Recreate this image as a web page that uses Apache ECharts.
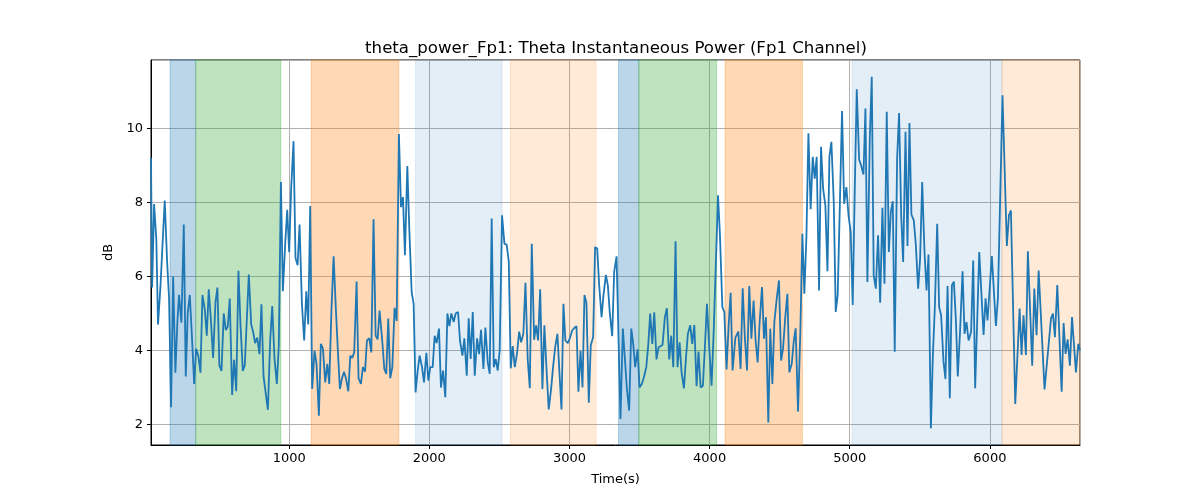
<!DOCTYPE html>
<html>
<head>
<meta charset="utf-8">
<title>theta_power_Fp1</title>
<script src="https://cdn.jsdelivr.net/npm/echarts@6/dist/echarts.min.js"></script>
<style>
  html, body { margin: 0; padding: 0; background: #fff; }
  #chart { width: 1200px; height: 500px; }
</style>
</head>
<body>
<div id="chart"></div>
<script>
// chart text
var chartTitle = 'theta_power_Fp1: Theta Instantaneous Power (Fp1 Channel)';
var xName = 'Time(s)';
var yName = 'dB';

// time (s) of each sample
var timeSec = [
  14, 22, 36, 52, 64, 81, 95, 112, 129, 143, 157, 172, 188, 202, 214, 231, 248, 262, 276, 291,
  307, 322, 336, 352, 367, 381, 398, 412, 426, 441, 457, 474, 488, 502, 517, 533, 548, 562, 576, 593,
  607, 622, 638, 652, 669, 683, 712, 729, 743, 757, 772, 788, 802, 817, 848,
  864, 879, 895, 912, 926, 941, 955, 972, 986, 1000, 1014, 1031, 1045, 1060, 1074, 1091, 1107, 1122, 1136, 1150,
  1164, 1181, 1195, 1212, 1226, 1241, 1257, 1272, 1286, 1302, 1317, 1333, 1348, 1362, 1376, 1391, 1405, 1422, 1436, 1450,
  1464, 1481, 1495, 1512, 1526, 1541, 1555, 1572, 1586, 1602, 1617, 1631, 1645, 1662, 1679,
  1693, 1707, 1721, 1736, 1752, 1767, 1783, 1798, 1812, 1826, 1843, 1857, 1874, 1888, 1902, 1917, 1931, 1948, 1962, 1979,
  1993, 2007, 2024, 2038, 2052, 2069, 2083, 2098, 2114, 2129, 2143, 2157, 2174, 2188, 2205, 2219, 2236, 2250, 2267, 2281,
  2295, 2310, 2324, 2341, 2355, 2369, 2386, 2400, 2417, 2431, 2445, 2460, 2474, 2488, 2502, 2519,
  2536, 2552, 2567, 2581, 2595, 2610, 2626, 2641, 2655, 2671, 2686, 2702, 2717, 2731, 2748, 2762, 2776, 2791, 2807, 2821,
  2838, 2852, 2869, 2883, 2898, 2914, 2929, 2943, 2957, 2971, 2988, 3002, 3019, 3033, 3050, 3064, 3079, 3093, 3107, 3121,
  3138, 3152, 3169, 3183, 3198, 3212, 3229, 3243, 3260, 3274, 3288, 3305, 3319, 3336,
  3364, 3381, 3395, 3410, 3426, 3441, 3455, 3469, 3486, 3500, 3517, 3531, 3548, 3562, 3576, 3591, 3605, 3621, 3636, 3650,
  3664, 3681, 3695, 3712, 3726, 3741, 3757, 3771, 3786, 3800, 3817, 3831, 3845, 3862, 3876, 3891, 3907, 3921, 3936, 3952,
  3967, 3981, 3998, 4014, 4029, 4060, 4074, 4091, 4105, 4121, 4136, 4150, 4164, 4184,
  4205, 4221, 4236, 4252, 4267, 4283, 4298, 4314, 4329, 4343, 4357, 4374, 4388, 4402, 4419, 4433, 4448, 4462, 4479, 4495,
  4510, 4524, 4541, 4555, 4569, 4586, 4600, 4614, 4631, 4648, 4662, 4676, 4691, 4705, 4721, 4736, 4750, 4764, 4781, 4795,
  4810, 4826, 4841, 4855, 4869, 4886, 4900, 4914, 4931, 4945, 4960, 4976, 4991, 5007, 5021,
  5036, 5050, 5067, 5081, 5098, 5112, 5126, 5143, 5157, 5171, 5186, 5202, 5217, 5233, 5248, 5264, 5279, 5293, 5307, 5321,
  5338, 5352, 5367, 5381, 5398, 5412, 5426, 5440, 5457, 5471, 5488, 5502, 5517, 5533, 5548, 5562, 5579, 5593, 5607, 5624,
  5638, 5652, 5669, 5683, 5698, 5714, 5729, 5743, 5757, 5771, 5788, 5805, 5819, 5833, 5848,
  5866, 5881, 5895, 5924, 5955, 5969, 5983, 6014, 6043, 6057, 6090, 6121, 6136, 6150, 6181, 6212, 6226, 6240, 6257, 6271,
  6302, 6317, 6333, 6348, 6390, 6436, 6450, 6464, 6481, 6512, 6526, 6540, 6555, 6571, 6586, 6614, 6631, 6643
];

// theta power (dB) at each sample
var powerDb = [
  9.2, 5.7, 7.95, 7.0, 4.7, 5.7, 5.75, 8.05, 6.4, 5.4, 2.47, 6.0, 3.4, 4.75, 5.5, 4.75, 7.4, 3.3, 5.0, 5.5,
  4.3, 3.1, 4.05, 3.85, 3.4, 5.5, 5.1, 4.4, 5.65, 4.85, 3.8, 5.3, 5.7, 3.6, 3.45, 5.0, 4.55, 4.65, 5.4, 2.8,
  3.75, 2.9, 6.15, 4.75, 3.45, 3.6, 6.05, 4.7, 4.5, 4.2, 4.35, 3.9, 5.25, 3.3, 2.4,
  4.23, 5.2, 3.8, 3.1, 4.15, 8.55, 5.6, 6.9, 7.8, 6.65, 8.35, 9.65, 6.5, 6.3, 7.4, 5.25, 4.27, 5.6, 4.7, 7.9,
  2.96, 4.0, 3.64, 2.24, 4.18, 4.05, 3.14, 3.64, 3.1, 5.13, 6.54, 5.13, 3.95, 2.96, 3.23, 3.43, 3.25, 2.9, 3.86, 3.8,
  3.95, 5.86, 3.25, 3.1, 3.55, 3.43, 4.27, 4.33, 3.95, 7.54, 4.4, 4.3, 5.08, 4.36, 3.5,
  3.37, 4.86, 3.25, 3.55, 5.15, 4.8, 9.84, 7.87, 8.14, 6.57, 8.98, 7.3, 5.58, 5.26, 2.87, 3.46, 3.86, 3.55, 3.14, 3.94,
  3.19, 3.55, 3.55, 4.4, 4.2, 4.59, 3.0, 3.46, 2.74, 5.0, 4.66, 5.0, 4.77, 5.0, 5.04, 4.27, 3.86, 4.33, 3.32, 4.87,
  3.77, 5.04, 3.32, 4.33, 3.9, 4.56, 3.5, 4.62, 3.68, 3.37, 7.56, 3.55, 3.77, 3.46, 4.0, 7.65,
  6.88, 6.86, 6.4, 3.52, 4.12, 3.55, 3.93, 4.51, 4.22, 4.45, 5.83, 3.77, 2.98, 6.88, 4.29, 4.68, 4.27, 5.65, 2.96, 4.68,
  3.37, 2.41, 2.96, 3.55, 4.09, 4.45, 3.37, 2.41, 5.26, 4.27, 4.2, 4.32, 4.54, 4.6, 4.66, 2.89, 4.0, 3.0, 5.5, 5.29,
  2.59, 4.14, 4.36, 6.79, 6.75, 5.76, 4.9, 5.5, 6.04, 5.76, 5.0, 4.39, 6.12, 6.54,
  2.15, 4.59, 4.6, 2.96, 2.38, 4.59, 4.18, 3.55, 4.03, 3.0, 3.1, 3.28, 3.55, 4.14, 5.0, 4.18, 5.03, 3.76, 4.09, 4.14,
  4.15, 4.9, 5.14, 3.76, 4.4, 3.55, 6.95, 3.55, 4.22, 3.41, 2.98, 3.79, 4.45, 4.68, 4.18, 4.69, 3.04, 3.97, 3.0, 3.05,
  4.14, 5.26, 4.05, 3.05, 4.5, 8.19, 7.1, 5.17, 5.04, 3.49, 4.69, 5.56, 3.46, 4.35,
  4.51, 3.5, 5.68, 4.32, 3.46, 5.74, 4.32, 5.35, 4.23, 3.68, 4.77, 5.71, 4.32, 4.9, 2.06, 4.59, 3.1, 4.77, 5.4, 5.89,
  3.73, 4.05, 4.95, 5.53, 3.41, 3.64, 4.23, 4.6, 2.35, 4.59, 7.15, 5.53, 7.1, 9.86, 7.81, 9.23, 8.64, 9.23, 5.62, 9.5,
  8.37, 7.92, 6.14, 9.23, 9.63, 8.0, 5.04, 5.5, 8.19, 10.46, 7.96, 8.41, 7.65, 7.2, 5.23,
  8.37, 11.05, 9.15, 9.0, 8.75, 10.53, 5.85, 9.72, 11.39, 6.03, 5.67, 7.11, 5.29, 7.85, 5.8, 10.44, 6.66, 7.74, 8.03, 3.97,
  9.18, 10.41, 7.65, 6.39, 9.9, 6.82, 10.14, 7.67, 7.51, 6.88, 5.67, 6.48, 8.55, 6.7, 5.62, 6.59, 1.9, 3.86, 5.14, 7.42,
  5.17, 4.95, 3.7, 3.23, 5.74, 2.71, 5.76, 5.86, 4.86, 3.3, 4.59, 6.14, 4.45, 4.77, 4.27,
  4.5, 6.43, 2.98, 6.66, 4.42, 5.41, 4.81, 6.55, 4.66, 5.4, 10.89, 6.82, 7.65, 7.78, 2.56, 5.13, 3.88, 4.95, 3.88, 6.68,
  3.59, 5.67, 4.41, 6.16, 2.95, 4.86, 5.0, 4.36, 5.77, 2.89, 4.74, 3.91, 4.3, 3.59, 4.9, 3.41, 4.18, 4.0
];

// shaded time spans (s) and their kind
var spanStart = [150, 333, 1157, 1902, 2579, 3350, 3495, 4110, 5017, 6086];
var spanEnd   = [333, 940, 1783, 2519, 3190, 3495, 4050, 4662, 6086, 6643];
var spanKind  = ['blue', 'green', 'orange', 'lightblue', 'lightorange', 'blue', 'green', 'orange', 'lightblue', 'lightorange'];

var spanColors = {
  blue: 'rgba(31,119,180,0.3)',
  green: 'rgba(44,160,44,0.3)',
  orange: 'rgba(255,127,14,0.3)',
  lightblue: 'rgba(31,119,180,0.12)',
  lightorange: 'rgba(255,127,14,0.16)'
};

var lineData = timeSec.map(function (t, i) { return [t, powerDb[i]]; });
var areas = spanStart.map(function (s, i) {
  var c = spanColors[spanKind[i]];
  return [{ xAxis: s, itemStyle: { color: c, borderColor: c, borderWidth: 1 } }, { xAxis: spanEnd[i] }];
});

var font = 'DejaVu Sans';
var chart = echarts.init(document.getElementById('chart'), null, { renderer: 'canvas' });

var option = {
  animation: false,
  backgroundColor: '#fff',
  textStyle: { fontFamily: font },
  title: {
    text: chartTitle,
    left: 611, textAlign: 'center',
    top: 35,
    textStyle: { fontFamily: font, fontSize: 16.6, fontWeight: 'normal', color: '#000' }
  },
  grid: {
    left: 151, right: 120, top: 60, bottom: 55,
    show: true, borderColor: '#000', borderWidth: 1, backgroundColor: 'transparent'
  },
  xAxis: {
    type: 'value',
    min: 14, max: 6643,
    name: xName, nameLocation: 'middle', nameGap: 28,
    nameTextStyle: { fontFamily: font, fontSize: 13, color: '#000' },
    axisLine: { show: true, lineStyle: { color: '#000', width: 1 } },
    axisTick: { show: true, length: 4, lineStyle: { color: '#000' } },
    axisLabel: {
      fontFamily: font, fontSize: 13, color: '#000', margin: 7,
      showMinLabel: false, showMaxLabel: false,
      formatter: function (v) { return String(v); }
    },
    splitLine: { show: true, lineStyle: { color: '#b0b0b0', width: 1 } }
  },
  yAxis: {
    type: 'value',
    min: 1.45, max: 11.84,
    name: yName, nameLocation: 'middle', nameGap: 36, nameRotate: 90,
    nameTextStyle: { fontFamily: font, fontSize: 13, color: '#000' },
    axisLine: { show: true, lineStyle: { color: '#000', width: 1 } },
    axisTick: { show: true, length: 4, lineStyle: { color: '#000' } },
    axisLabel: { fontFamily: font, fontSize: 13, color: '#000', margin: 8, showMinLabel: false, showMaxLabel: false },
    splitLine: { show: true, lineStyle: { color: '#b0b0b0', width: 1 } }
  },
  series: [{
    type: 'line',
    data: lineData,
    showSymbol: false,
    lineStyle: { color: '#1f77b4', width: 1.8 },
    itemStyle: { color: '#1f77b4' },
    z: 3,
    markArea: { silent: true, data: areas }
  }]
};
chart.setOption(option);
</script>
</body>
</html>
